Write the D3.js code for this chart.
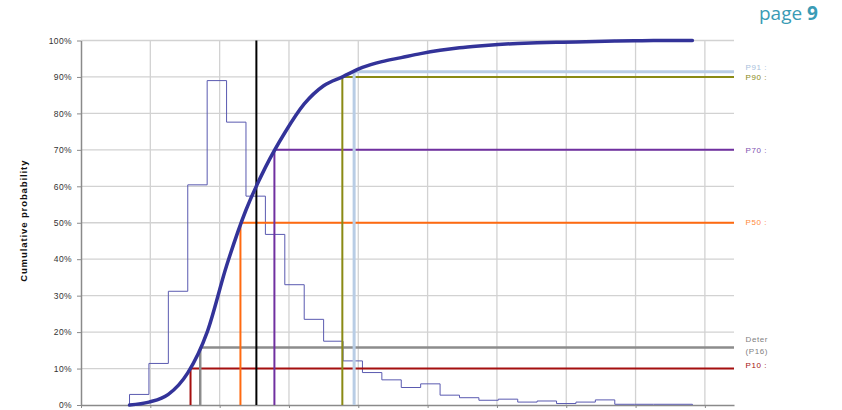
<!DOCTYPE html>
<html>
<head>
<meta charset="utf-8">
<script src="https://cdn.jsdelivr.net/npm/d3@7"></script>
<style>
  body { margin: 0; background: #fff; }
  svg { display: block; }
  text { font-family: "Liberation Sans", Arial, sans-serif; }
</style>
</head>
<body>
<svg id="chart" width="842" height="410"></svg>
<script>
// histogram: bin edges (x axis units, one unit per gridline) and bar heights (%)
const binEdges = [0.70, 0.98, 1.26, 1.54, 1.82, 2.10, 2.38, 2.66, 2.94, 3.22,
                  3.50, 3.78, 4.06, 4.34, 4.62, 4.90, 5.18, 5.46, 5.74, 6.02,
                  6.30, 6.58, 6.86, 7.14, 7.42, 7.70, 7.98, 8.26, 8.54, 8.82];
const binHeights = [2.9, 11.4, 31.2, 60.4, 89.0, 77.6, 57.3, 46.8, 33.0, 23.5,
                    17.5, 12.1, 8.9, 6.9, 4.8, 5.8, 2.7, 2.0, 1.3, 1.6,
                    0.8, 1.1, 0.4, 0.8, 1.4, 0.2, 0.2, 0.2, 0.2];

// cumulative probability (%) read at each bin edge
const cumPct = [0, 0.8, 2.9, 8.8, 20.0, 38.2, 53.5, 65.2, 74.7, 82.6,
                87.6, 90.1, 92.6, 94.2, 95.3, 96.4, 97.3, 98.0, 98.5, 98.9,
                99.2, 99.4, 99.5, 99.6, 99.75, 99.85, 99.9, 100, 100, 100];

// percentile markers
const pctNames = ["P10", "P16", "P50", "P70", "P90", "P91"];
const pctX = [1.58, 1.72, 2.30, 2.79, 3.77, 3.94];
const pctY = [10, 15.8, 50, 70, 90, 91.4];
const pctLabels = [["P10 : 1.58"], ["Deterministic", "(P16) : 1.72"], ["P50 : 2.30"],
                   ["P70 : 2.79"], ["P90 : 3.77"], ["P91 : 3.94"]];
const refX = 2.53; // black reference line

const yTicks = [0, 10, 20, 30, 40, 50, 60, 70, 80, 90, 100];
const xTicks = [0, 1, 2, 3, 4, 5, 6, 7, 8, 9];

// styles per percentile
const pctStyle = {
  P10: {color: "#a50f0f", text: "#a50f0f", width: 2, dy: [-3.5]},
  P16: {color: "#8c8c8c", text: "#7f7f7f", width: 2.5, dy: [-8.5, 3.5]},
  P50: {color: "#ff6a10", text: "#ff8a3a", width: 2, dy: [-1]},
  P70: {color: "#7030a0", text: "#8050b0", width: 2, dy: [0.5]},
  P90: {color: "#8a8a14", text: "#8a8a14", width: 2, dy: [0]},
  P91: {color: "#b9cde5", text: "#a9bfdc", width: 3, dy: [-5]}
};

const svg = d3.select("#chart");
const mLeft = 81, mRight = 734, mTop = 40.5, mBottom = 405;

const x = d3.scaleLinear().domain([0, 9.42]).range([mLeft, mRight]);
const y = d3.scaleLinear().domain([0, 100]).range([mBottom, mTop]);

svg.append("rect").attr("width", 842).attr("height", 410).attr("fill", "#fff");

// gridlines
svg.append("g")
  .selectAll("line")
  .data(yTicks.filter(d => d > 0))
  .join("line")
  .attr("x1", mLeft).attr("x2", mRight)
  .attr("y1", d => y(d)).attr("y2", d => y(d))
  .attr("stroke", "#d2d2d2").attr("stroke-width", 1.3);

svg.append("g")
  .selectAll("line")
  .data(xTicks.filter(d => d > 0))
  .join("line")
  .attr("x1", d => x(d)).attr("x2", d => x(d))
  .attr("y1", mTop).attr("y2", mBottom)
  .attr("stroke", "#d2d2d2").attr("stroke-width", 1.3);

// y axis
const yAxis = svg.append("g")
  .attr("transform", `translate(${mLeft},0)`)
  .call(d3.axisLeft(y).tickValues(yTicks).tickSize(4).tickSizeOuter(0).tickPadding(5)
    .tickFormat(d => d + "%"));
yAxis.select(".domain").attr("stroke", "#8a8a8a").attr("stroke-width", 1.5);
yAxis.selectAll(".tick line").attr("stroke", "#8a8a8a");
yAxis.selectAll(".tick text")
  .attr("fill", "#333")
  .style("font-size", "8.5px")
  .style("letter-spacing", "0.4px")
  .style("font-family", "'Liberation Sans', Arial, sans-serif");

// x axis (labels fall below the visible area)
const xAxis = svg.append("g")
  .attr("transform", `translate(0,${mBottom})`)
  .call(d3.axisBottom(x).tickValues(xTicks).tickSize(3).tickSizeOuter(0).tickFormat(""));
xAxis.select(".domain").attr("stroke", "#8a8a8a").attr("stroke-width", 1.5);
xAxis.selectAll(".tick line").attr("stroke", "#8a8a8a");

// y axis title
svg.append("text")
  .attr("transform", `translate(27,${(mTop + mBottom) / 2 - 2}) rotate(-90)`)
  .attr("text-anchor", "middle")
  .attr("fill", "#111")
  .style("font-size", "9.5px")
  .style("font-weight", "bold")
  .style("letter-spacing", "0.9px")
  .text("Cumulative probability");

// histogram outline
const histPts = [[binEdges[0], 0]];
binHeights.forEach((h, i) => histPts.push([binEdges[i], h]));
histPts.push([binEdges[binEdges.length - 1], binHeights[binHeights.length - 1]]);
histPts.push([binEdges[binEdges.length - 1], 0]);

svg.append("path")
  .datum(histPts)
  .attr("fill", "none")
  .attr("stroke", "#5a5ab0")
  .attr("stroke-width", 1)
  .attr("d", d3.line().x(d => x(d[0])).y(d => y(d[1])).curve(d3.curveStepAfter));

// percentile lines
pctNames.forEach((name, i) => {
  const st = pctStyle[name];
  const g = svg.append("g");
  g.append("line")
    .attr("x1", x(pctX[i])).attr("x2", x(pctX[i]))
    .attr("y1", y(0)).attr("y2", y(pctY[i]))
    .attr("stroke", st.color).attr("stroke-width", st.width);
  g.append("line")
    .attr("x1", x(pctX[i])).attr("x2", mRight)
    .attr("y1", y(pctY[i])).attr("y2", y(pctY[i]))
    .attr("stroke", st.color).attr("stroke-width", st.width);
});

// black reference line
svg.append("line")
  .attr("x1", x(refX)).attr("x2", x(refX))
  .attr("y1", y(0)).attr("y2", y(100))
  .attr("stroke", "#000").attr("stroke-width", 2);

// cumulative curve
svg.append("path")
  .datum(binEdges.map((e, i) => [e, cumPct[i]]))
  .attr("fill", "none")
  .attr("stroke", "#333399")
  .attr("stroke-width", 3.5)
  .attr("stroke-linecap", "round")
  .attr("d", d3.line().x(d => x(d[0])).y(d => y(d[1])).curve(d3.curveMonotoneX));

// right-side labels, clipped like the source
svg.append("clipPath").attr("id", "lblclip")
  .append("rect").attr("x", 740).attr("y", 0).attr("width", 28).attr("height", 410);

const lbl = svg.append("g").attr("clip-path", "url(#lblclip)");
pctNames.forEach((name, i) => {
  const st = pctStyle[name];
  pctLabels[i].forEach((t, j) => {
    lbl.append("text")
      .attr("x", 745.5)
      .attr("y", y(pctY[i]) + st.dy[j])
      .attr("dy", "0.35em")
      .attr("fill", st.text)
      .style("font-size", "8px")
      .style("letter-spacing", "0.6px")
      .text(t);
  });
});

// page number
const page = svg.append("text")
  .attr("x", 759)
  .attr("y", 20)
  .attr("fill", "#3a9bb5")
  .style("font-family", "'Open Sans', 'Noto Sans', sans-serif")
  .style("font-size", "19px");
page.append("tspan").text("page ");
page.append("tspan").style("font-weight", "bold").text("9");
</script>
</body>
</html>
